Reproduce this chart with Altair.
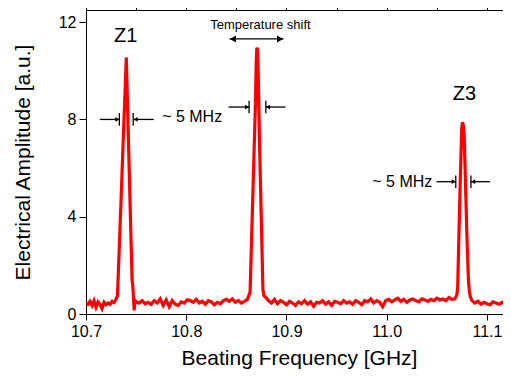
import altair as alt
import pandas as pd

# ---------------- data ----------------
seg_a_x = [10.700, 10.702, 10.704, 10.706, 10.708, 10.710, 10.712, 10.714, 10.716, 10.718,
           10.720, 10.722, 10.724, 10.726, 10.728, 10.730]
seg_a_y = [0.45, 0.40, 0.52, 0.35, 0.55, 0.28, 0.50, 0.40, 0.22, 0.48,
           0.38, 0.45, 0.40, 0.52, 0.47, 0.62]

peak1_x = [10.7314, 10.733, 10.735, 10.737, 10.739, 10.7402, 10.7412, 10.743, 10.745, 10.746, 10.7468, 10.748, 10.749]
peak1_y = [0.75, 2.5, 4.7, 7.0, 9.2, 10.55, 8.95, 6.1, 2.9, 1.4, 1.1, 0.15, 0.55]

seg_b_x = [10.750, 10.753, 10.756, 10.759, 10.762, 10.765, 10.768, 10.771, 10.774, 10.777,
           10.780, 10.783, 10.786, 10.789, 10.792, 10.795, 10.798, 10.801, 10.804, 10.807,
           10.810, 10.813, 10.816, 10.819, 10.822, 10.825, 10.828, 10.831, 10.834, 10.837,
           10.840, 10.843, 10.846, 10.849, 10.852, 10.855, 10.858, 10.861]
seg_b_y = [0.50, 0.45, 0.55, 0.42, 0.48, 0.40, 0.55, 0.45, 0.62, 0.35,
           0.58, 0.30, 0.55, 0.40, 0.35, 0.50, 0.45, 0.58, 0.55, 0.48,
           0.60, 0.45, 0.52, 0.40, 0.55, 0.50, 0.38, 0.48, 0.42, 0.55,
           0.60, 0.52, 0.62, 0.48, 0.55, 0.45, 0.52, 0.60]

peak2_x = [10.8637, 10.865, 10.867, 10.869, 10.8698, 10.8704, 10.8710, 10.8718, 10.873, 10.875, 10.8765, 10.8775]
peak2_y = [0.9, 2.8, 5.7, 8.6, 10.3, 10.95, 10.9, 9.9, 7.2, 3.7, 1.0, 0.75]

seg_c_x = [10.879, 10.882, 10.885, 10.888, 10.891, 10.894, 10.897, 10.900, 10.903, 10.906,
           10.909, 10.912, 10.915, 10.918, 10.921, 10.924, 10.927, 10.930, 10.933, 10.936,
           10.939, 10.942, 10.945, 10.948, 10.951, 10.954, 10.957, 10.960, 10.963, 10.966,
           10.969, 10.972, 10.975, 10.978, 10.981, 10.984, 10.987, 10.990, 10.993, 10.996,
           10.999, 11.002, 11.005, 11.008, 11.011, 11.014, 11.017, 11.020, 11.023, 11.026,
           11.029, 11.032, 11.035, 11.038, 11.041, 11.044, 11.047, 11.050, 11.053, 11.056,
           11.059, 11.062, 11.065, 11.068]
seg_c_y = [0.70, 0.55, 0.45, 0.60, 0.42, 0.55, 0.48, 0.38, 0.52, 0.45,
           0.35, 0.50, 0.42, 0.55, 0.40, 0.50, 0.32, 0.48, 0.45, 0.55,
           0.40, 0.50, 0.35, 0.52, 0.48, 0.42, 0.55, 0.45, 0.50, 0.40,
           0.55, 0.48, 0.38, 0.55, 0.50, 0.62, 0.45, 0.55, 0.48, 0.30,
           0.55, 0.60, 0.50, 0.58, 0.65, 0.52, 0.60, 0.48, 0.58, 0.62,
           0.55, 0.50, 0.62, 0.58, 0.52, 0.60, 0.55, 0.65, 0.58, 0.62,
           0.55, 0.68, 0.60, 0.62]

peak3_x = [11.0700, 11.0708, 11.072, 11.0735, 11.0748, 11.0755, 11.0763, 11.0772, 11.0785, 11.080, 11.0815, 11.0825, 11.0835]
peak3_y = [0.8, 1.1, 3.2, 5.7, 7.6, 7.88, 7.8, 7.4, 5.5, 3.2, 1.4, 0.9, 0.7]

seg_d_x = [11.085, 11.088, 11.091, 11.094, 11.097, 11.100, 11.103, 11.106, 11.109, 11.112, 11.115, 11.117]
seg_d_y = [0.55, 0.45, 0.52, 0.40, 0.48, 0.42, 0.38, 0.50, 0.45, 0.40, 0.48, 0.44]

freq = seg_a_x + peak1_x + seg_b_x + peak2_x + seg_c_x + peak3_x + seg_d_x
amp = seg_a_y + peak1_y + seg_b_y + peak2_y + seg_c_y + peak3_y + seg_d_y

x_major = [10.7, 10.8, 10.9, 11.0, 11.1]
x_minor = [10.75, 10.85, 10.95, 11.05]
x_top = [10.7, 10.75, 10.8, 10.85, 10.9, 10.95, 11.0, 11.05, 11.1]
y_major = [0, 4, 8, 12]
y_minor = [2, 6, 10]

# annotations (data coordinates)
seg_x = [10.7137, 10.7481, 10.8422, 10.8794, 11.0497, 11.0840, 10.8431]
seg_x2 = [10.7333, 10.7676, 10.8627, 10.8990, 11.0689, 11.1032, 10.8971]
seg_yv = [8.0, 8.0, 8.51, 8.51, 5.44, 5.44, 11.31]

bar_x = [10.7333, 10.7471, 10.8627, 10.8794, 11.0689, 11.0840]
bar_y = [8.0, 8.0, 8.51, 8.51, 5.44, 5.44]

head_x = [10.7312, 10.7495, 10.8606, 10.8816, 11.0668, 11.0862]
head_y = [8.0, 8.0, 8.51, 8.51, 5.44, 5.44]
head_shape = ["triangle-right", "triangle-left", "triangle-right", "triangle-left", "triangle-right", "triangle-left"]

big_head_x = [10.8466, 10.8936]
big_head_y = [11.31, 11.31]
big_head_shape = ["triangle-left", "triangle-right"]

label_text = ["Z1", "Z3"]
label_x = [10.7397, 11.0775]
label_y = [11.45, 9.05]

note_text = ["~ 5 MHz", "~ 5 MHz"]
note_x = [10.8059, 11.0155]
note_y = [8.12, 5.43]

temp_text = ["Temperature shift"]
temp_x = [10.874]
temp_y = [11.90]

# ---------------- chart ----------------
FONT = "Liberation Sans"
xs = alt.Scale(domain=[10.7, 11.116], nice=False, zero=False)
ys = alt.Scale(domain=[0, 12.5], nice=False, zero=False)

df = pd.DataFrame({"f": freq, "a": amp})

line = alt.Chart(df).mark_line(color="#ff0000", strokeWidth=3.2, clip=True).encode(
    x=alt.X("f:Q", scale=xs, axis=alt.Axis(
        values=x_major, format=".1f", tickSize=6, labelPadding=3, labelFontSize=16,
        labelFlush=False, title="Beating Frequency [GHz]", titleFontSize=21,
        titleFontWeight="normal", titleX=213, titleY=50, titleBaseline="alphabetic",
        titleAlign="center")),
    y=alt.Y("a:Q", scale=ys, axis=alt.Axis(
        values=y_major, format="d", tickSize=7, labelPadding=3, labelFontSize=16,
        title="Electrical Amplitude [a.u.]", titleFontSize=21, titleFontWeight="normal",
        titleX=-63, titleY=152, titleBaseline="middle", titleAlign="center", titleAngle=-90)),
)

minor = alt.Chart(df).mark_point(opacity=0).encode(
    x=alt.X("f:Q", scale=xs, axis=alt.Axis(values=x_minor, tickSize=3, labels=False,
                                           domain=False, title=None)),
    y=alt.Y("a:Q", scale=ys, axis=alt.Axis(values=y_minor, tickSize=4, labels=False,
                                           domain=False, title=None)),
)

top = alt.Chart(df).mark_point(opacity=0).encode(
    x=alt.X("f:Q", scale=xs, axis=alt.Axis(orient="top", values=x_top, tickSize=5,
                                           labels=False, domain=True, title=None)),
    y=alt.Y("a:Q", scale=ys, axis=None),
)

segs = alt.Chart(pd.DataFrame({"x": seg_x, "x2": seg_x2, "y": seg_yv})).mark_rule(
    color="black", strokeWidth=1.3).encode(
    x=alt.X("x:Q", scale=xs, axis=None), x2="x2:Q", y=alt.Y("y:Q", scale=ys, axis=None))

bars_df = pd.DataFrame({"x": bar_x, "y": bar_y})
bars_df["y1"] = bars_df["y"] - 0.26
bars_df["y2"] = bars_df["y"] + 0.26
bars = alt.Chart(bars_df).mark_rule(color="black", strokeWidth=1.3).encode(
    x=alt.X("x:Q", scale=xs, axis=None), y=alt.Y("y1:Q", scale=ys, axis=None), y2="y2:Q")

heads = alt.Chart(pd.DataFrame({"x": head_x, "y": head_y, "s": head_shape})).mark_point(
    filled=True, color="black", size=22, opacity=1).encode(
    x=alt.X("x:Q", scale=xs, axis=None), y=alt.Y("y:Q", scale=ys, axis=None),
    shape=alt.Shape("s:N", scale=None, legend=None))

big_heads = alt.Chart(pd.DataFrame({"x": big_head_x, "y": big_head_y, "s": big_head_shape})).mark_point(
    filled=True, color="black", size=50, opacity=1).encode(
    x=alt.X("x:Q", scale=xs, axis=None), y=alt.Y("y:Q", scale=ys, axis=None),
    shape=alt.Shape("s:N", scale=None, legend=None))

labels = alt.Chart(pd.DataFrame({"t": label_text, "x": label_x, "y": label_y})).mark_text(
    font=FONT, fontSize=20, color="black", align="center", baseline="middle").encode(
    x=alt.X("x:Q", scale=xs, axis=None), y=alt.Y("y:Q", scale=ys, axis=None), text="t:N")

notes = alt.Chart(pd.DataFrame({"t": note_text, "x": note_x, "y": note_y})).mark_text(
    font=FONT, fontSize=16, color="black", align="center", baseline="middle").encode(
    x=alt.X("x:Q", scale=xs, axis=None), y=alt.Y("y:Q", scale=ys, axis=None), text="t:N")

temp = alt.Chart(pd.DataFrame({"t": temp_text, "x": temp_x, "y": temp_y})).mark_text(
    font=FONT, fontSize=13, color="black", align="center", baseline="middle").encode(
    x=alt.X("x:Q", scale=xs, axis=None), y=alt.Y("y:Q", scale=ys, axis=None), text="t:N")

chart = alt.layer(line, minor, top, segs, bars, heads, big_heads, labels, notes, temp).resolve_axis(
    x="independent", y="independent"
).properties(
    width=417, height=304,
    autosize=alt.AutoSizeParams(type="none"),
    padding={"left": 78, "top": 2, "right": 0, "bottom": 55},
    background="white",
).configure_axis(
    grid=False, domainColor="black", tickColor="black", labelColor="black",
    titleColor="black", labelFont=FONT, titleFont=FONT, domainWidth=1, tickWidth=1,
).configure_view(stroke=None)

chart.save("out.html", embed_options={"renderer": "svg", "actions": False})
